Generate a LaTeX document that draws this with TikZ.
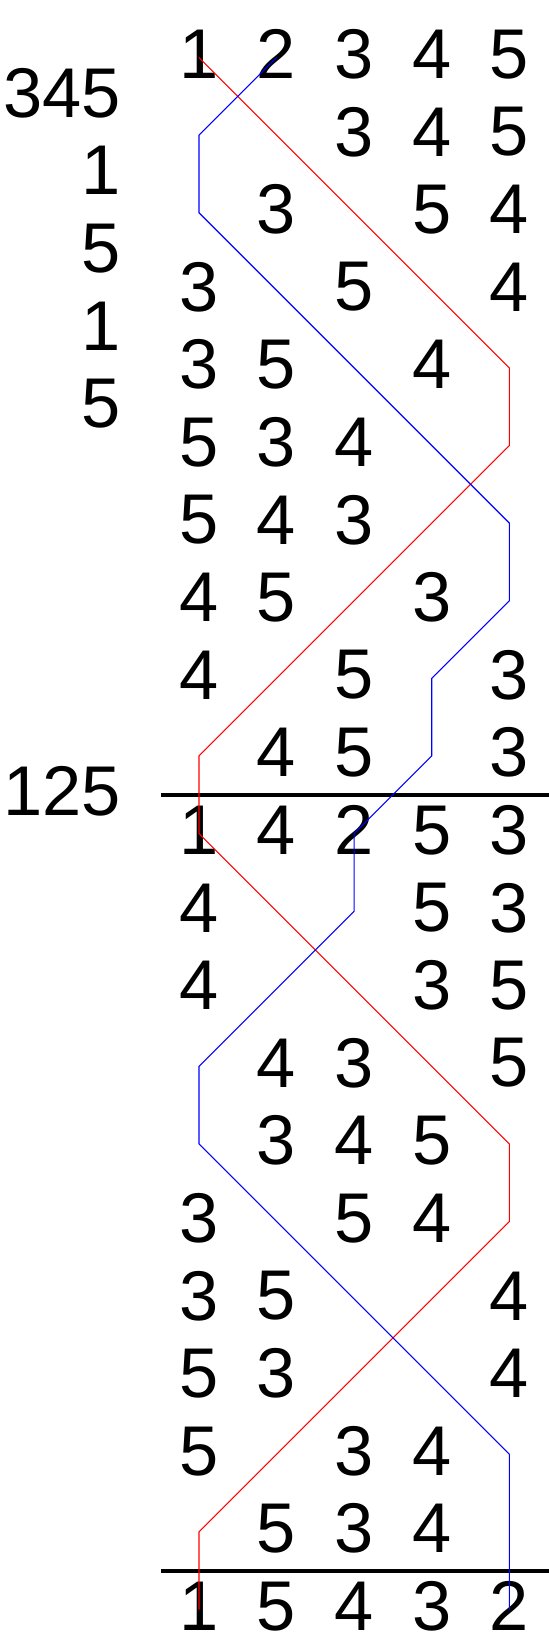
\documentclass[tikz,border=0pt]{standalone}
\usepackage{fontspec}
\setmainfont{Liberation Sans}
\usetikzlibrary{calc}

\begin{document}
\begin{tikzpicture}[
  x=38.8pt, y=-38.8pt,
  font=\fontsize{35.2}{42}\selectfont,
  digit/.style={inner sep=0pt, yshift=1.6pt},
  lbl/.style={inner sep=0pt, anchor=east, yshift=1.6pt},
  rule/.style={draw=black, line width=1.8pt},
  redpath/.style={draw=red, line width=0.55pt},
  bluepath/.style={draw=blue, line width=0.55pt},
]
\useasboundingbox (-2.564,-0.741) rectangle (4.510,20.367);

% grid points (row, column)
\foreach \r in {0,...,20}
  \foreach \c in {0,...,4}
    \coordinate (g-\r-\c) at (\c,\r);

% cell contents, x = empty cell
\foreach \row [count=\r from 0] in {
    {1,2,3,4,5},{x,x,3,4,5},{x,3,x,5,4},{3,x,5,x,4},{3,5,x,4,x},
    {5,3,4,x,x},{5,4,3,x,x},{4,5,x,3,x},{4,x,5,x,3},{x,4,5,x,3},
    {1,4,2,5,3},{4,x,x,5,3},{4,x,x,3,5},{x,4,3,x,5},{x,3,4,5,x},
    {3,x,5,4,x},{3,5,x,x,4},{5,3,x,x,4},{5,x,3,4,x},{x,5,3,4,x},
    {1,5,4,3,2}}
  \foreach \d [count=\c from 0] in \row {
    \if x\d\else \node[digit] (n-\r-\c) at (g-\r-\c) {\d};\fi
  }

% left labels
\node[lbl] (lab-345) at (-1,0.5) {345};
\node[lbl] (lab-1a)  at (-1,1.5) {1};
\node[lbl] (lab-5a)  at (-1,2.5) {5};
\node[lbl] (lab-1b)  at (-1,3.5) {1};
\node[lbl] (lab-5b)  at (-1,4.5) {5};
\node[lbl] (lab-125) at (-1,9.5) {125};

% rules
\coordinate (rule1w) at (-0.49,9.5);
\coordinate (rule1e) at (4.51,9.5);
\coordinate (rule2w) at (-0.49,19.5);
\coordinate (rule2e) at (4.51,19.5);
\draw[rule] (rule1w) -- (rule1e);
\draw[rule] (rule2w) -- (rule2e);

% paths of 1 and 2
\draw[redpath] (g-0-0) -- (g-4-4) -- (g-5-4) -- (g-9-0) -- (g-10-0)
  -- (g-14-4) -- (g-15-4) -- (g-19-0) -- (g-20-0);
\draw[bluepath] (g-0-1) -- (g-1-0) -- (g-2-0) -- (g-6-4) -- (g-7-4)
  -- (g-8-3) -- (g-9-3) -- (g-10-2) -- (g-11-2) -- (g-13-0) -- (g-14-0)
  -- (g-18-4) -- (g-20-4);
\end{tikzpicture}
\end{document}
